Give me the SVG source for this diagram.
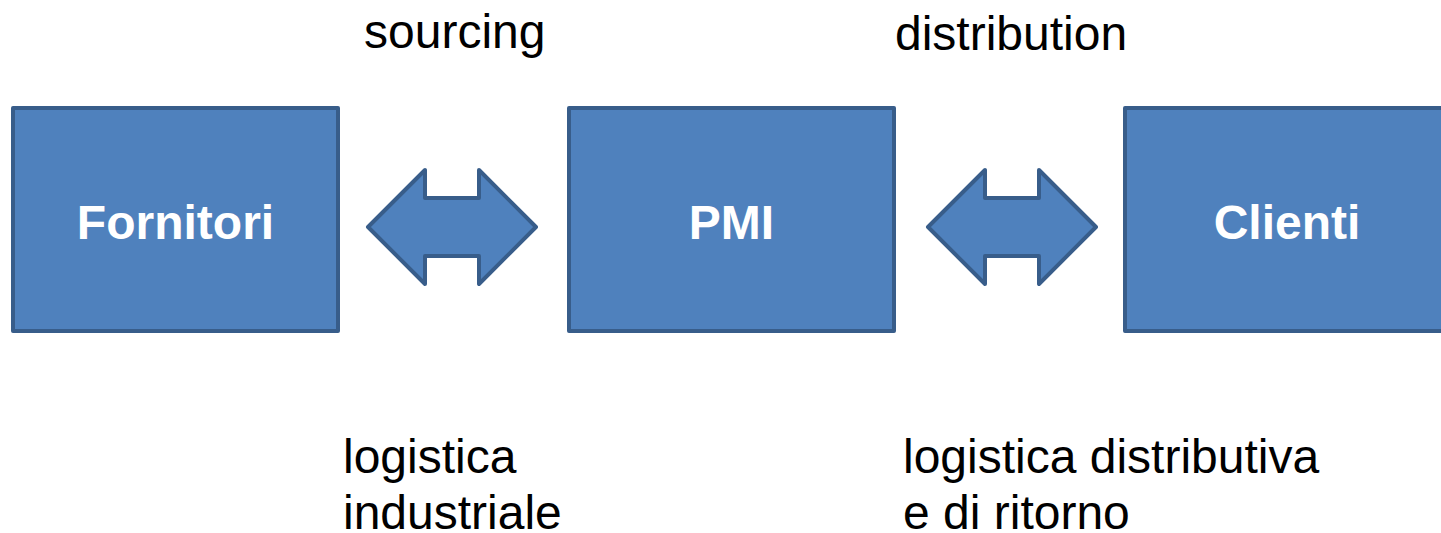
<svg xmlns="http://www.w3.org/2000/svg" width="1441" height="533" viewBox="0 0 1441 533">
<style>
.box{fill:#4F81BD;stroke:#385D8A;stroke-width:4;stroke-linejoin:round}
.arr{fill:#4F81BD;stroke:#385D8A;stroke-width:4;stroke-linejoin:round}
.lbl{font-family:"Liberation Sans",Arial,sans-serif;font-size:48px;font-weight:bold;fill:#FFFFFF;text-anchor:middle}
.txt{font-family:"Liberation Sans",Arial,sans-serif;font-size:48px;fill:#000000}
</style>
<rect width="1441" height="533" fill="#FFFFFF"/>
<g id="fornitori">
<rect class="box" x="13" y="108" width="325" height="223"/>
<text class="lbl" x="175.5" y="239">Fornitori</text>
</g>
<g id="pmi">
<rect class="box" x="569" y="108" width="325" height="223"/>
<text class="lbl" x="731.5" y="239">PMI</text>
</g>
<g id="clienti">
<rect class="box" x="1125" y="108" width="325" height="223"/>
<text class="lbl" x="1287" y="239">Clienti</text>
</g>
<g id="connectors">
<path class="arr" d="M368,227 L425,170 L425,198 L479,198 L479,170 L536,227 L479,284 L479,256 L425,256 L425,284 Z"/>
<path class="arr" d="M928,227 L985,170 L985,198 L1039,198 L1039,170 L1096,227 L1039,284 L1039,256 L985,256 L985,284 Z"/>
</g>
<g id="labels">
<text class="txt" x="364" y="48">sourcing</text>
<text class="txt" x="895" y="50">distribution</text>
<text class="txt" x="343" y="473">logistica</text>
<text class="txt" x="343" y="529">industriale</text>
<text class="txt" x="903" y="473">logistica distributiva</text>
<text class="txt" x="903" y="529">e di ritorno</text>
</g>
</svg>
